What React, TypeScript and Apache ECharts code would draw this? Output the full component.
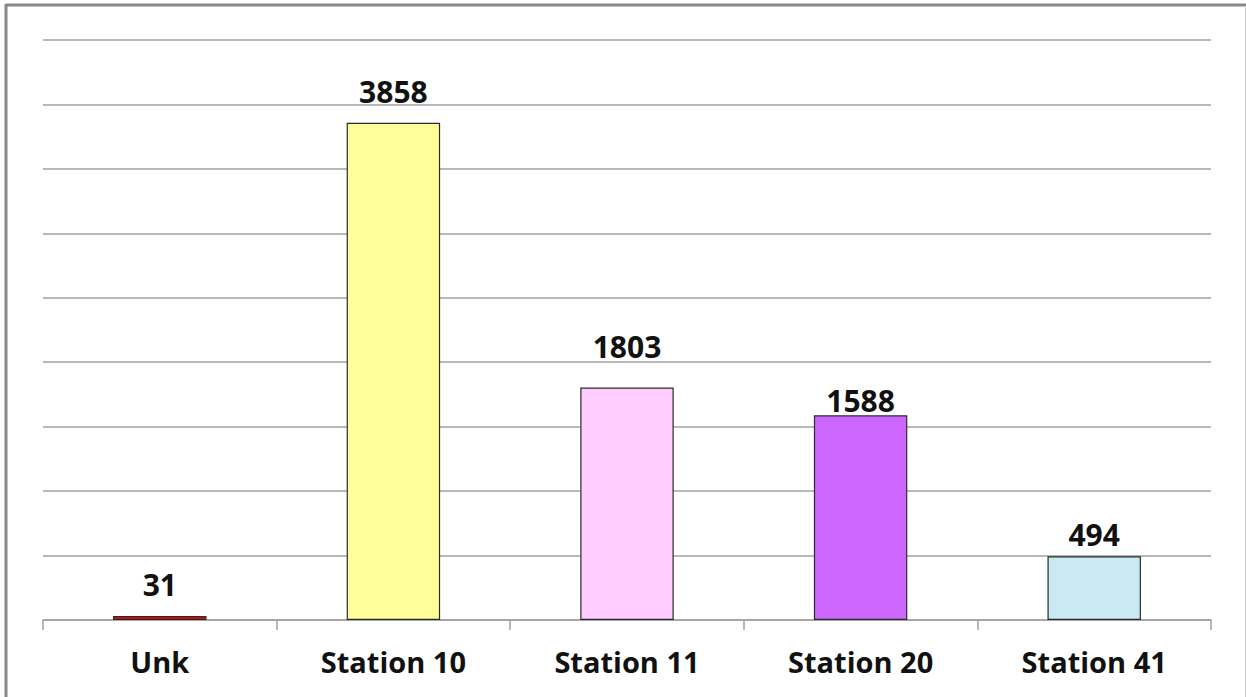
import React, { useEffect, useRef } from "react";
import * as echarts from "echarts";

// Record counts per station
const categories = ["Unk", "Station 10", "Station 11", "Station 20", "Station 41"];
const counts = [31, 3858, 1803, 1588, 494];
const barColors = ["#ff0000", "#ffff99", "#ffccff", "#cc66ff", "#c8eaf0"];
// distance between each value label and the top of its bar
const labelGaps = [17, 16, 26, 0, 7];

const yMin = 0;
const yMax = 4500;
const yStep = 500;

export default function App() {
  const ref = useRef<HTMLDivElement>(null);

  useEffect(() => {
    if (!ref.current) return;
    const chart = echarts.init(ref.current, null, { renderer: "svg" });
    const gridColor = "#a0a0a0";
    chart.setOption({
      animation: false,
      backgroundColor: "#ffffff",
      grid: { left: 43, right: 35, top: 40, bottom: 77, containLabel: false },
      xAxis: {
        type: "category",
        data: categories,
        axisLine: { lineStyle: { color: gridColor, width: 1.5 } },
        axisTick: { show: true, length: 10, lineStyle: { color: gridColor, width: 1.5 } },
        axisLabel: {
          color: "#111111",
          fontFamily: "Open Sans",
          fontWeight: "bold",
          fontSize: 29,
          margin: 27,
        },
      },
      yAxis: {
        type: "value",
        min: yMin,
        max: yMax,
        interval: yStep,
        axisLine: { show: false },
        axisTick: { show: false },
        axisLabel: { show: false },
        splitLine: { lineStyle: { color: gridColor, width: 1.5 } },
      },
      series: [
        {
          type: "bar",
          barWidth: "40%",
          data: counts.map((v, i) => ({
            value: v,
            itemStyle: { color: barColors[i], borderColor: "#2a2a2a", borderWidth: 1.2 },
            label: { distance: labelGaps[i] },
          })),
          label: {
            show: true,
            position: "top",
            color: "#111111",
            fontFamily: "Open Sans",
            fontWeight: "bold",
            fontSize: 30,
          },
        },
      ],
      graphic: [
        { type: "line", shape: { x1: 6, y1: 5, x2: 1246, y2: 5 }, style: { stroke: "#888888", lineWidth: 3 } },
        { type: "line", shape: { x1: 6, y1: 4, x2: 6, y2: 697 }, style: { stroke: "#888888", lineWidth: 3 } },
        { type: "line", shape: { x1: 1245.5, y1: 6, x2: 1245.5, y2: 697 }, style: { stroke: "#d0d0d0", lineWidth: 1 } },
      ],
    });
    return () => chart.dispose();
  }, []);

  return (
    <div
      ref={ref}
      style={{ position: "fixed", left: 0, top: 0, width: 1246, height: 697 }}
    />
  );
}
